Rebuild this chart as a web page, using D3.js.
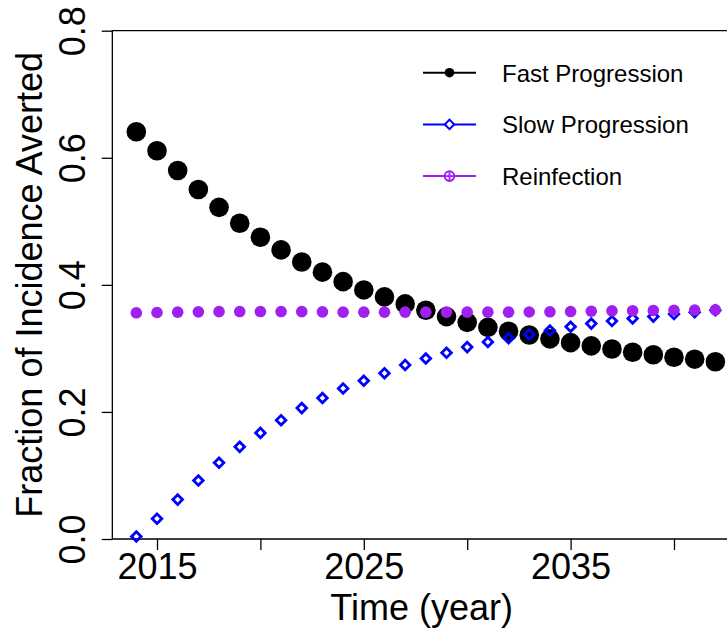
<!DOCTYPE html>
<html>
<head>
<meta charset="utf-8">
<script src="https://cdn.jsdelivr.net/npm/d3@7/dist/d3.min.js"></script>
<style>
  body { margin: 0; background: #fff; }
  svg { display: block; font-family: "Liberation Sans", Arial, sans-serif; }
</style>
</head>
<body>
<div id="chart"></div>
<script>
// data
const years = [2014, 2015, 2016, 2017, 2018, 2019, 2020, 2021, 2022, 2023,
               2024, 2025, 2026, 2027, 2028, 2029, 2030, 2031, 2032, 2033,
               2034, 2035, 2036, 2037, 2038, 2039, 2040, 2041, 2042];

const fastProgression = [0.641, 0.611, 0.580, 0.550, 0.522, 0.497, 0.475, 0.455, 0.436, 0.420,
                         0.405, 0.392, 0.381, 0.370, 0.360, 0.350, 0.341, 0.333, 0.327, 0.321,
                         0.315, 0.309, 0.304, 0.299, 0.294, 0.290, 0.286, 0.283, 0.279];

const slowProgression = [0.004, 0.032, 0.062, 0.092, 0.120, 0.145, 0.167, 0.187, 0.206, 0.222,
                         0.237, 0.249, 0.261, 0.274, 0.284, 0.293, 0.302, 0.310, 0.316, 0.322,
                         0.328, 0.334, 0.339, 0.343, 0.347, 0.350, 0.354, 0.357, 0.360];

const reinfection = [0.356, 0.3565, 0.357, 0.3575, 0.3578, 0.358, 0.358, 0.358, 0.3578, 0.3575,
                     0.357, 0.357, 0.357, 0.357, 0.357, 0.357, 0.357, 0.357, 0.357, 0.3573,
                     0.3576, 0.358, 0.3585, 0.359, 0.3593, 0.3597, 0.360, 0.3603, 0.3606];

const xTicks = [2015, 2020, 2025, 2030, 2035, 2040];
const xTickLabels = ["2015", "", "2025", "", "2035", ""];
const yTicks = [0, 0.2, 0.4, 0.6, 0.8];
const yTickLabels = ["0.0", "0.2", "0.4", "0.6", "0.8"];

const seriesNames = ["Fast Progression", "Slow Progression", "Reinfection"];

const width = 727;
const height = 632;

const svg = d3.select("#chart")
  .append("svg")
  .attr("width", width)
  .attr("height", height);

const x = d3.scaleLinear().domain([2015, 2040]).range([157, 674]);
const y = d3.scaleLinear().domain([0, 0.8]).range([539, 30.7]);

// plot box (right side falls outside the picture)
const boxLeft = x(2012.84);
svg.append("path")
  .attr("d", "M" + (width + 40) + "," + y(0.8) + "H" + boxLeft + "V" + y(0) + "H" + (width + 40))
  .attr("fill", "none")
  .attr("stroke", "#000")
  .attr("stroke-width", 1.3);

// x axis
const xAxis = svg.append("g")
  .attr("transform", "translate(0," + y(0) + ")")
  .call(d3.axisBottom(x)
    .tickValues(xTicks)
    .tickSize(11)
    .tickFormat((d, i) => xTickLabels[i]));
xAxis.select(".domain").remove();
xAxis.selectAll(".tick line").attr("stroke", "#000").attr("stroke-width", 1.3);
xAxis.selectAll(".tick text")
  .attr("y", 40)
  .attr("dy", null)
  .attr("fill", "#000")
  .style("font-size", "36px")
  .style("font-family", "'Liberation Sans', Arial, sans-serif");

// y axis
const yAxis = svg.append("g")
  .attr("transform", "translate(" + boxLeft + ",0)")
  .call(d3.axisLeft(y)
    .tickValues(yTicks)
    .tickSize(10.6)
    .tickFormat((d, i) => yTickLabels[i]));
yAxis.select(".domain").remove();
yAxis.selectAll(".tick line").attr("stroke", "#000").attr("stroke-width", 1.3);
yAxis.selectAll(".tick text")
  .attr("x", null)
  .attr("dy", null)
  .attr("text-anchor", "middle")
  .attr("transform", "translate(" + (85 - boxLeft) + ",0) rotate(-90)")
  .attr("fill", "#000")
  .style("font-size", "36px")
  .style("font-family", "'Liberation Sans', Arial, sans-serif");

// axis titles
svg.append("text")
  .attr("x", x(2027.8))
  .attr("y", 620)
  .attr("text-anchor", "middle")
  .style("font-size", "36px")
  .text("Time (year)");

svg.append("text")
  .attr("transform", "translate(42," + ((y(0) + y(0.8)) / 2) + ") rotate(-90)")
  .attr("text-anchor", "middle")
  .style("font-size", "36px")
  .text("Fraction of Incidence Averted");

// points
svg.append("g").selectAll("circle")
  .data(years)
  .enter()
  .append("circle")
  .attr("cx", d => x(d))
  .attr("cy", (d, i) => y(fastProgression[i]))
  .attr("r", 9.8)
  .attr("fill", "#000");

const diamond = d3.symbol().type(d3.symbolSquare).size(46);
svg.append("g").selectAll("path")
  .data(years)
  .enter()
  .append("path")
  .attr("d", diamond)
  .attr("transform", (d, i) => "translate(" + x(d) + "," + y(slowProgression[i]) + ") rotate(45)")
  .attr("fill", "none")
  .attr("stroke", "#0000ff")
  .attr("stroke-width", 2.8);

svg.append("g").selectAll("circle")
  .data(years)
  .enter()
  .append("circle")
  .attr("cx", d => x(d))
  .attr("cy", (d, i) => y(reinfection[i]))
  .attr("r", 5.8)
  .attr("fill", "#a020f0");

// legend
const legendColors = ["#000000", "#0000ff", "#a020f0"];
const legend = svg.append("g").attr("transform", "translate(423,72.7)");
const rows = legend.selectAll("g")
  .data(seriesNames)
  .enter()
  .append("g")
  .attr("transform", (d, i) => "translate(0," + i * 51.7 + ")");

rows.append("line")
  .attr("x1", 0).attr("x2", 53)
  .attr("stroke", (d, i) => legendColors[i])
  .attr("stroke-width", 2);

rows.append("text")
  .attr("x", 79)
  .attr("y", 8.8)
  .style("font-size", "24px")
  .text(d => d);

rows.filter((d, i) => i === 0).append("circle")
  .attr("cx", 26.5).attr("r", 4.8).attr("fill", "#000");

rows.filter((d, i) => i === 1).append("path")
  .attr("d", d3.symbol().type(d3.symbolSquare).size(44))
  .attr("transform", "translate(26.5,0) rotate(45)")
  .attr("fill", "#fff")
  .attr("stroke", "#0000ff")
  .attr("stroke-width", 2);

const plus = rows.filter((d, i) => i === 2);
plus.append("circle")
  .attr("cx", 26.5).attr("r", 4.8)
  .attr("fill", "#fff")
  .attr("stroke", "#a020f0")
  .attr("stroke-width", 2);
plus.append("line")
  .attr("x1", 21.7).attr("x2", 31.3)
  .attr("stroke", "#a020f0").attr("stroke-width", 1.8);
plus.append("line")
  .attr("x1", 26.5).attr("x2", 26.5).attr("y1", -4.8).attr("y2", 4.8)
  .attr("stroke", "#a020f0").attr("stroke-width", 1.8);
</script>
</body>
</html>
